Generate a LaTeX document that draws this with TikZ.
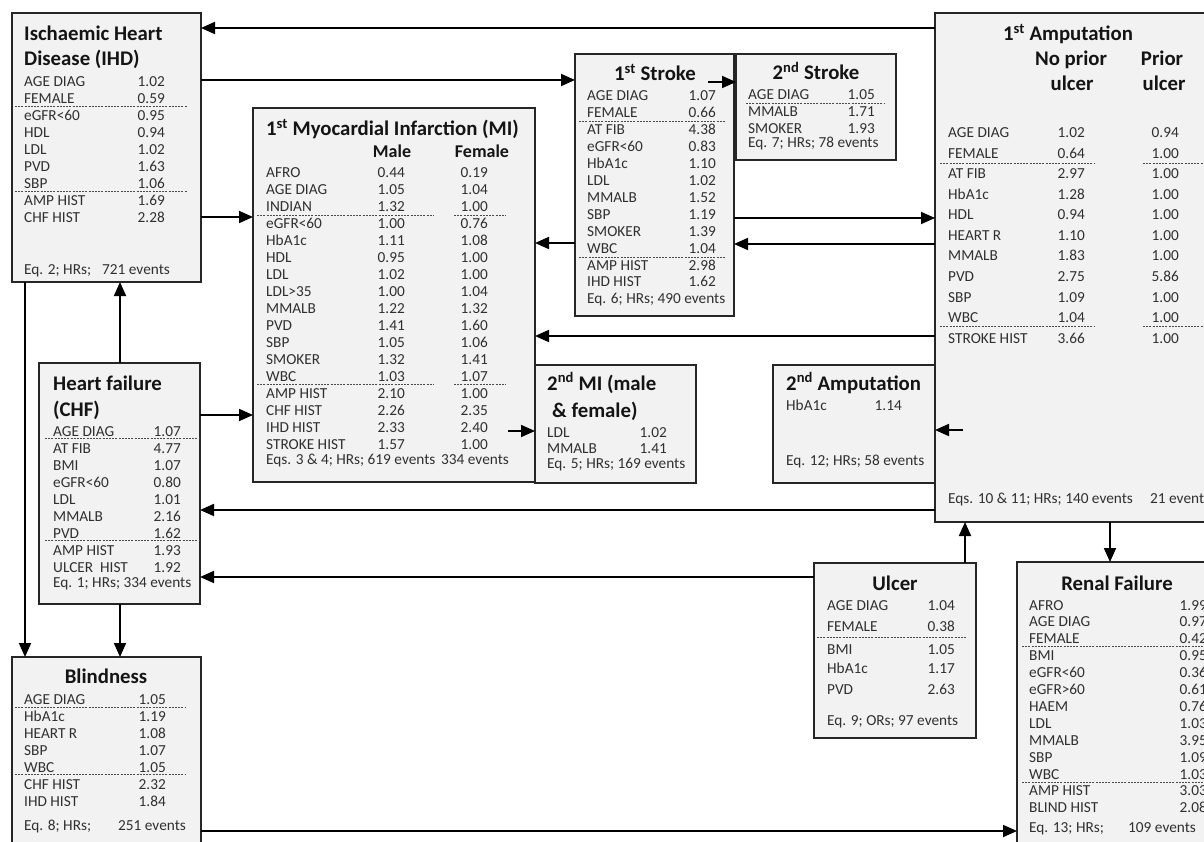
\documentclass[tikz,border=0pt]{standalone}
\usepackage{fontspec}
\setmainfont{Carlito}
\usetikzlibrary{arrows.meta}
\definecolor{boxfill}{HTML}{F2F2F2}
\definecolor{boxline}{HTML}{262626}
\definecolor{bodytxt}{HTML}{303030}
\definecolor{titletxt}{HTML}{141414}
\definecolor{sepline}{HTML}{4A4A4A}

\newcommand\tworows[6]{% prefix, x label, x value, y0, dy, list label/value
  \foreach \l/\v [count=\i from 0] in {#6}{%
    \node[lbl] (#1l\i) at (#2,{#4+\i*#5}) {\l};
    \node[val] (#1v\i) at (#3,{#4+\i*#5}) {\v};
  }}
\newcommand\threerows[7]{% prefix, x label, x value1, x value2, y0, dy, list label/v1/v2
  \foreach \l/\m/\f [count=\i from 0] in {#7}{%
    \node[lbl] (#1l\i) at (#2,{#5+\i*#6}) {\l};
    \node[val] (#1m\i) at (#3,{#5+\i*#6}) {\m};
    \node[val] (#1f\i) at (#4,{#5+\i*#6}) {\f};
  }}

\begin{document}
\begin{tikzpicture}[x=1pt,y=-1pt,
  box/.style={draw=boxline, fill=boxfill, line width=1.6pt, inner sep=0pt, outer sep=0pt, anchor=north west, rectangle},
  lbl/.style={anchor=base west, inner sep=0pt, text=bodytxt, font=\fontsize{15.3}{17}\selectfont},
  val/.style={anchor=base east, inner sep=0pt, text=bodytxt, font=\fontsize{15.3}{17}\selectfont},
  ttl/.style={anchor=base west, inner sep=0pt, text=titletxt, font=\fontsize{20.8}{24}\selectfont\bfseries},
  ttlc/.style={ttl, anchor=base},
  subh/.style={anchor=base, inner sep=0pt, text=titletxt, font=\fontsize{18}{22}\selectfont\bfseries},
  sep/.style={draw=sepline, line width=0.9pt, dash pattern=on 2pt off 1.2pt},
  arr/.style={draw=black, line width=1.8pt, -{Triangle[length=14pt,width=12pt]}},
]
\useasboundingbox (0,0) rectangle (1204,842);
\fill[white] (0,0) rectangle (1204,842);
\clip (0,0) rectangle (1204,842);

% ---------- boxes ----------
\node[box, minimum width=189pt, minimum height=269pt] (ihd) at (12,13) {};
\node[box, minimum width=282pt, minimum height=374pt] (mi) at (253,108) {};
\node[box, minimum width=159pt, minimum height=262pt] (stroke1) at (575,54) {};
\node[box, minimum width=160pt, minimum height=106pt] (stroke2) at (736,54) {};
\node[box, minimum width=162pt, minimum height=118pt] (amp2) at (773,365) {};
\node[box, minimum width=290pt, minimum height=509pt] (amp1) at (935,13) {};
\node[box, minimum width=161pt, minimum height=241pt] (chf) at (39,363) {};
\node[box, minimum width=161pt, minimum height=118pt] (mi2) at (535,365) {};
\node[box, minimum width=189pt, minimum height=200pt] (blind) at (12,657) {};
\node[box, minimum width=162pt, minimum height=175pt] (ulcer) at (814,563) {};
\node[box, minimum width=210pt, minimum height=300pt] (renal) at (1017,562) {};

% ---------- IHD ----------
\node[ttl] (ihdt1) at (24,41) {Ischaemic Heart};
\node[ttl] (ihdt2) at (24,66) {Disease (IHD)};
\tworows{ihd}{24}{165}{87}{17}{AGE DIAG/1.02, FEMALE/0.59, eGFR<60/0.95, HDL/0.94, LDL/1.02, PVD/1.63, SBP/1.06, AMP HIST/1.69, CHF HIST/2.28}
\draw[sep] (15,106) -- (187,106);
\draw[sep] (15,191) -- (187,191);
\node[lbl] (ihdeq) at (24,274) {Eq. 2; HRs;};
\node[lbl] (ihdev) at (102,274) {721 events};

% ---------- 1st MI ----------
\node[ttl] (mit) at (266,136) {1\textsuperscript{st} Myocardial Infarction (MI)};
\node[subh] (mimale) at (392,158) {Male};
\node[subh] (mifemale) at (482,158) {Female};
\threerows{mi}{266}{405}{488}{178}{16.94}{AFRO/0.44/0.19, AGE DIAG/1.05/1.04, INDIAN/1.32/1.00, eGFR<60/1.00/0.76, HbA1c/1.11/1.08, HDL/0.95/1.00, LDL/1.02/1.00, LDL>35/1.00/1.04, MMALB/1.22/1.32, PVD/1.41/1.60, SBP/1.05/1.06, SMOKER/1.32/1.41, WBC/1.03/1.07, AMP HIST/2.10/1.00, CHF HIST/2.26/2.35, IHD HIST/2.33/2.40, STROKE HIST/1.57/1.00}
\draw[sep] (257,215) -- (434,215);
\draw[sep] (454,215) -- (506,215);
\draw[sep] (257,384) -- (434,384);
\draw[sep] (454,384) -- (506,384);
\node[lbl] (mieq) at (266,464) {Eqs. 3 \& 4; HRs; 619 events};
\node[lbl] (miev) at (441,464) {334 events};

% ---------- 1st Stroke ----------
\node[ttlc] (s1t) at (655,81) {1\textsuperscript{st} Stroke};
\tworows{sa}{587}{716}{101}{16.9}{AGE DIAG/1.07, FEMALE/0.66, AT FIB/4.38, eGFR<60/0.83, HbA1c/1.10, LDL/1.02, MMALB/1.52, SBP/1.19, SMOKER/1.39, WBC/1.04, AMP HIST/2.98, IHD HIST/1.62}
\draw[sep] (579,121) -- (726,121);
\draw[sep] (579,257) -- (726,257);
\node[lbl] (saeq) at (587,303) {Eq. 6; HRs; 490 events};

% ---------- 2nd Stroke ----------
\node[ttlc] (s2t) at (816,80) {2\textsuperscript{nd} Stroke};
\tworows{sb}{748}{875}{100}{17}{AGE DIAG/1.05, MMALB/1.71, SMOKER/1.93}
\draw[sep] (746,103) -- (885,103);
\node[lbl] (sbeq) at (748,148) {Eq. 7; HRs; 78 events};

% ---------- 1st Amputation ----------
\node[ttlc] (a1t) at (1068,41) {1\textsuperscript{st} Amputation};
\node[ttlc] (a1h1) at (1071,66) {No prior};
\node[ttlc] (a1h2) at (1162,66) {Prior};
\node[ttlc] (a1h3) at (1072,91) {ulcer};
\node[ttlc] (a1h4) at (1164,91) {ulcer};
\threerows{aa}{948}{1085}{1179}{138}{20.5}{AGE DIAG/1.02/0.94, FEMALE/0.64/1.00, AT FIB/2.97/1.00, HbA1c/1.28/1.00, HDL/0.94/1.00, HEART R/1.10/1.00, MMALB/1.83/1.00, PVD/2.75/5.86, SBP/1.09/1.00, WBC/1.04/1.00, STROKE HIST/3.66/1.00}
\draw[sep] (940,163) -- (1095,163);
\draw[sep] (1143,163) -- (1210,163);
\draw[sep] (940,326) -- (1095,326);
\draw[sep] (1143,326) -- (1210,326);
\node[lbl] (aaeq) at (948,503) {Eqs. 10 \& 11; HRs; 140 events};
\node[lbl] (aaev) at (1150,503) {21 events};

% ---------- Heart failure ----------
\node[ttl] (chft1) at (53,390) {Heart failure};
\node[ttl] (chft2) at (53,416) {(CHF)};
\tworows{hf}{53}{181}{436}{17}{AGE DIAG/1.07, AT FIB/4.77, BMI/1.07, eGFR<60/0.80, LDL/1.01, MMALB/2.16, PVD/1.62, AMP HIST/1.93, ULCER~~HIST/1.92}
\draw[sep] (45,438) -- (200,438);
\draw[sep] (45,540) -- (200,540);
\node[lbl] (hfeq) at (53,587) {Eq. 1; HRs; 334 events};

% ---------- 2nd MI ----------
\node[ttl] (mbt1) at (547,390) {2\textsuperscript{nd} MI (male};
\node[ttl] (mbt2) at (552,417) {\& female)};
\tworows{mb}{547}{667}{437}{16.5}{LDL/1.02, MMALB/1.41}
\node[lbl] (mbeq) at (547,468) {Eq. 5; HRs; 169 events};

% ---------- 2nd Amputation ----------
\node[ttl] (abt) at (786,390) {2\textsuperscript{nd} Amputation};
\node[lbl] (abl) at (786,410) {HbA1c};
\node[val] (abv) at (902,410) {1.14};
\node[lbl] (abeq) at (786,465) {Eq. 12; HRs; 58 events};

% ---------- Blindness ----------
\node[ttlc] (blt) at (106,683) {Blindness};
\tworows{bl}{24}{166}{704}{17}{AGE DIAG/1.05, HbA1c/1.19, HEART R/1.08, SBP/1.07, WBC/1.05, CHF HIST/2.32, IHD HIST/1.84}
\draw[sep] (15,707) -- (186,707);
\draw[sep] (15,774) -- (186,774);
\node[lbl] (bleq) at (24,830) {Eq. 8; HRs;};
\node[lbl] (blev) at (118,830) {251 events};

% ---------- Ulcer ----------
\node[ttlc] (ult) at (895,590) {Ulcer};
\foreach \l/\v/\y [count=\i] in {AGE DIAG/1.04/610, FEMALE/0.38/631, BMI/1.05/654, HbA1c/1.17/673, PVD/2.63/694}{%
  \node[lbl] (ull\i) at (827,\y) {\l};
  \node[val] (ulv\i) at (955,\y) {\v};
}
\draw[sep] (817,637) -- (967,637);
\node[lbl] (uleq) at (827,725) {Eq. 9; ORs; 97 events};

% ---------- Renal Failure ----------
\node[ttlc] (rft) at (1117,590) {Renal Failure};
\tworows{rf}{1029}{1207}{610}{16.9}{AFRO/1.99, AGE DIAG/0.97, FEMALE/0.42, BMI/0.95, eGFR<60/0.36, eGFR>60/0.61, HAEM/0.76, LDL/1.03, MMALB/3.95, SBP/1.09, WBC/1.03, AMP HIST/3.03, BLIND HIST/2.08}
\draw[sep] (1022,646) -- (1210,646);
\draw[sep] (1022,782) -- (1210,782);
\node[lbl] (rfeq) at (1029,832) {Eq. 13; HRs;};
\node[lbl] (rfev) at (1128,832) {109 events};

% ---------- connectors ----------
\coordinate (s12) at (708,82);
\coordinate (m12) at (508,431);
\coordinate (a12) at (963,430);

\draw[arr] (amp1.west |- 0,28) -- (ihd.east |- 0,28);
\draw[arr] (ihd.east |- 0,80) -- (stroke1.west |- 0,80);
\draw[arr] (ihd.east |- 0,217) -- (mi.west |- 0,217);
\draw[arr] (chf.east |- 0,415) -- (mi.west |- 0,415);
\draw[arr] (chf.north -| 120,0) -- (ihd.south -| 120,0);
\draw[arr] (ihd.south -| 25,0) -- (blind.north -| 25,0);
\draw[arr] (chf.south -| 120,0) -- (blind.north -| 120,0);
\draw[arr] (blind.east |- 0,831) -- (renal.west |- 0,831);
\draw[arr] (s12) -- (stroke2.west |- s12);
\draw[arr] (stroke1.east |- 0,218) -- (amp1.west |- 0,218);
\draw[arr] (amp1.west |- 0,244) -- (stroke1.east |- 0,244);
\draw[arr] (stroke1.west |- 0,243) -- (mi.east |- 0,243);
\draw[arr] (amp1.west |- 0,336) -- (mi.east |- 0,336);
\draw[arr] (m12) -- (mi2.west |- m12);
\draw[arr] (a12) -- (amp2.east |- a12);
\draw[arr] (amp1.west |- 0,510) -- (chf.east |- 0,510);
\draw[arr] (ulcer.west |- 0,577) -- (chf.east |- 0,577);
\draw[arr] (ulcer.north -| 965,0) -- (amp1.south -| 965,0);
\draw[arr] (amp1.south -| 1110,0) -- (renal.north -| 1110,0);
\end{tikzpicture}
\end{document}
